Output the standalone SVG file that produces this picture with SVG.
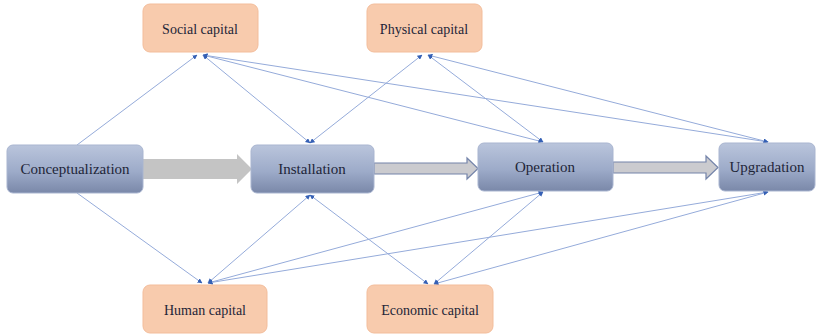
<svg xmlns="http://www.w3.org/2000/svg" width="820" height="334" viewBox="0 0 820 334">
<defs>
<linearGradient id="stageGrad" x1="0" y1="0" x2="0" y2="1">
<stop offset="0" stop-color="#bac5dc"/>
<stop offset="0.55" stop-color="#9dabc9"/>
<stop offset="1" stop-color="#7a88a9"/>
</linearGradient>
<marker id="ah" viewBox="0 0 10 10" refX="9" refY="5" markerWidth="5" markerHeight="5" orient="auto-start-reverse" markerUnits="userSpaceOnUse">
<path d="M0,0 L10,5 L0,10 z" fill="#3560b5"/>
</marker>
<style>
.stage rect{fill:url(#stageGrad);stroke:#a9b5d0;stroke-width:1}
.cap rect{fill:#f8cbad;stroke:#f3bd9b;stroke-width:1}
text{font-family:"Liberation Serif","DejaVu Serif",serif;fill:#1e2538;text-anchor:middle}
.stage text{font-size:15px}
.cap text{font-size:14px}
.conn line{stroke:#95abda;stroke-width:1;fill:none}
.one{marker-end:url(#ah)}
.two{marker-start:url(#ah);marker-end:url(#ah)}
</style>
</defs>
<rect width="820" height="334" fill="#ffffff"/>
<g id="connectors" class="conn">
<line class="one" x1="77" y1="145" x2="197" y2="55"/>
<line class="one" x1="77" y1="193" x2="202" y2="283"/>
<line class="two" x1="203" y1="55" x2="310" y2="143"/>
<line class="two" x1="203" y1="55" x2="543" y2="142"/>
<line class="two" x1="203" y1="55" x2="768" y2="142"/>
<line class="two" x1="422" y1="55" x2="310" y2="143"/>
<line class="two" x1="428" y1="55" x2="543" y2="142"/>
<line class="two" x1="428" y1="55" x2="768" y2="142"/>
<line class="two" x1="310" y1="195" x2="208" y2="283"/>
<line class="two" x1="543" y1="192" x2="208" y2="283"/>
<line class="two" x1="768" y1="192" x2="208" y2="283"/>
<line class="two" x1="310" y1="195" x2="428" y2="284"/>
<line class="two" x1="543" y1="192" x2="434" y2="284"/>
<line class="two" x1="768" y1="192" x2="434" y2="284"/>
</g>
<g id="flow-arrows">
<path d="M143,159 L237,159 L237,154 L252,169 L237,184 L237,179 L143,179 z" fill="#c4c4c4"/>
<path d="M374,163 L467,163 L467,158 L478,168.5 L467,179 L467,174 L374,174 z" fill="#cbcbcf" stroke="#7484aa" stroke-width="1.2"/>
<path d="M613,162 L706,162 L706,156 L718,167.5 L706,179 L706,173 L613,173 z" fill="#cbcbcf" stroke="#7484aa" stroke-width="1.2"/>
</g>
<g id="conceptualization" class="stage">
<rect x="7" y="145" width="136" height="48" rx="6"/>
<text x="75" y="174">Conceptualization</text>
</g>
<g id="installation" class="stage">
<rect x="251" y="145" width="123" height="48" rx="6"/>
<text x="312" y="174">Installation</text>
</g>
<g id="operation" class="stage">
<rect x="478" y="143" width="135" height="48" rx="6"/>
<text x="545" y="172">Operation</text>
</g>
<g id="upgradation" class="stage">
<rect x="719" y="143" width="96" height="48" rx="6"/>
<text x="767" y="172">Upgradation</text>
</g>
<g id="social-capital" class="cap">
<rect x="143" y="4" width="115" height="48" rx="7"/>
<text x="200" y="34">Social capital</text>
</g>
<g id="physical-capital" class="cap">
<rect x="367" y="4" width="115" height="48" rx="7"/>
<text x="424" y="34">Physical capital</text>
</g>
<g id="human-capital" class="cap">
<rect x="143" y="285" width="124" height="48" rx="7"/>
<text x="205" y="315">Human capital</text>
</g>
<g id="economic-capital" class="cap">
<rect x="367" y="285" width="126" height="48" rx="7"/>
<text x="430" y="315">Economic capital</text>
</g>
</svg>
